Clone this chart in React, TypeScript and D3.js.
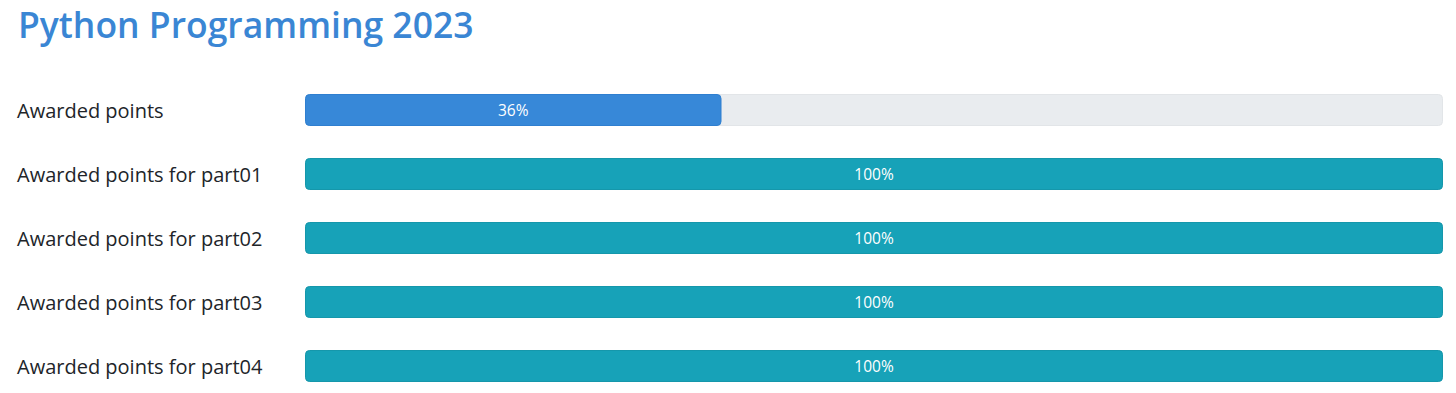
import React from "react";
import * as d3 from "d3";

const title = "Python Programming 2023";
const categories = [
  "Awarded points",
  "Awarded points for part01",
  "Awarded points for part02",
  "Awarded points for part03",
  "Awarded points for part04",
];
const values = [36.6, 100, 100, 100, 100];
const colors = ["#3788d8", "#17a2b8", "#17a2b8", "#17a2b8", "#17a2b8"];
const borders = ["#2f7fd0", "#1597ab", "#1597ab", "#1597ab", "#1597ab"];

export default function App() {
  const W = 1456, H = 393;
  const x = d3.scaleLinear().domain([0, 100]).range([305, 1443]);
  const y = d3.scaleBand().domain(categories).range([78, 398]).paddingInner(0.5).paddingOuter(0.25);
  const font = "'Open Sans', 'Segoe UI', sans-serif";
  return (
    <svg width={W} height={H} style={{ position: "absolute", left: 0, top: 0 }}>
      <text x={18} y={38} fill="#3a86d4" fontSize={35.5} fontWeight={600} fontFamily={font}>{title}</text>
      {categories.map((c, i) => {
        const yy = y(c)!;
        const bh = y.bandwidth();
        return (
          <g key={c}>
            <text x={17} y={yy + bh / 2 + 1} dy="0.35em" fontSize={20} fill="#212529" fontFamily={font}>{c}</text>
            <rect x={x(0) + 0.5} y={yy + 0.5} width={x(100) - x(0) - 1} height={bh - 1} rx={4} fill="#e9ecef" stroke="#e2e5e8" />
            <rect x={x(0) + 0.5} y={yy + 0.5} width={x(values[i]) - x(0) - 1} height={bh - 1} rx={4} fill={colors[i]} stroke={borders[i]} />
            <text x={(x(0) + x(values[i])) / 2} y={yy + bh / 2 + 0.5} dy="0.35em" textAnchor="middle" fontSize={15.5} fill="#fff" fontFamily={font}>{Math.floor(values[i])}%</text>
          </g>
        );
      })}
    </svg>
  );
}
